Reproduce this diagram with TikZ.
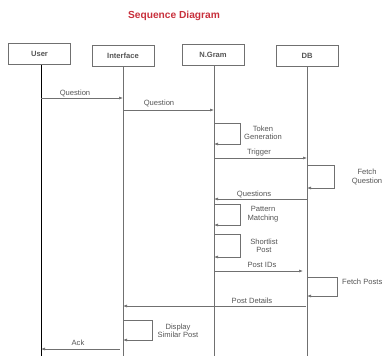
\documentclass[tikz,border=0pt]{standalone}
\usepackage{fontspec}
\setmainfont{Liberation Sans}
\usetikzlibrary{arrows.meta}
\definecolor{ln}{HTML}{707070}
\definecolor{tx}{HTML}{555555}
\definecolor{ttl}{HTML}{C8303C}
\begin{document}
\begin{tikzpicture}[x=1pt,y=-1pt,
  obj/.style={draw=ln,line width=0.6pt,minimum width=62pt,minimum height=21pt,inner sep=0pt,font=\fontsize{7.6}{9}\selectfont\bfseries,text=tx},
  life/.style={draw=ln,line width=0.6pt},
  msg/.style={draw=ln,line width=0.6pt,-{Latex[length=4pt,width=3pt]}},
  lbl/.style={font=\fontsize{7.6}{9}\selectfont,text=tx,inner sep=0pt},
  ml/.style={font=\fontsize{7.6}{8.5}\selectfont,text=tx,inner sep=0pt,align=center}]
\useasboundingbox (0,0) rectangle (385,356);
\node[font=\fontsize{10.2}{12}\selectfont\bfseries,text=ttl] (title) at (174,16) {Sequence Diagram};
\node[obj] (user) at (39.5,54) {User};
\node[obj] (intf) at (123,55.5) {Interface};
\node[obj] (ngram) at (213,55) {N.Gram};
\node[obj] (db) at (307,56) {DB};
% lifelines
\coordinate (uend) at (41,356);
\coordinate (iend) at (123,356);
\coordinate (nend) at (214,356);
\coordinate (dend) at (307,356);
\draw[line width=0.7pt,black] (user.south -| uend) -- (uend);
\draw[life] (intf.south) -- (iend);
\draw[life] (ngram.south -| nend) -- (nend);
\draw[life] (db.south) -- (dend);
% messages
\coordinate (q1a) at (41,98); \coordinate (q1b) at (123,98);
\draw[msg] (q1a) -- (q1b);
\node[lbl] (q1l) at (75,93) {Question};
\coordinate (q2a) at (123,110); \coordinate (q2b) at (214,110);
\draw[msg] (q2a) -- (q2b);
\node[lbl] (q2l) at (159,103) {Question};
% token generation
\coordinate (t1) at (214,123); \coordinate (t2) at (240,123); \coordinate (t3) at (240,144); \coordinate (t4) at (214,144);
\draw[msg] (t1) -- (t2) -- (t3) -- (t4);
\node[ml] (tl) at (263,133) {Token\\Generation};
% trigger
\coordinate (tr1) at (214,158); \coordinate (tr2) at (307,158);
\draw[msg] (tr1) -- (tr2);
\node[lbl] (trl) at (259,153) {Trigger};
% fetch question
\coordinate (f1) at (307,165); \coordinate (f2) at (334,165); \coordinate (f3) at (334,188); \coordinate (f4) at (307,188);
\draw[msg] (f1) -- (f2) -- (f3) -- (f4);
\node[ml] (fl) at (367,177) {Fetch\\Question};
% questions
\coordinate (qs1) at (307,199); \coordinate (qs2) at (214,199);
\draw[msg] (qs1) -- (qs2);
\node[lbl] (qsl) at (254,194) {Questions};
% pattern matching
\coordinate (p1) at (214,204); \coordinate (p2) at (240,204); \coordinate (p3) at (240,225); \coordinate (p4) at (214,225);
\draw[msg] (p1) -- (p2) -- (p3) -- (p4);
\node[ml] (pl) at (263,214) {Pattern\\Matching};
% shortlist post
\coordinate (s1) at (214,234); \coordinate (s2) at (240,234); \coordinate (s3) at (240,257); \coordinate (s4) at (214,257);
\draw[msg] (s1) -- (s2) -- (s3) -- (s4);
\node[ml] (sl) at (264,246) {Shortlist\\Post};
% post ids
\coordinate (pi1) at (214,271); \coordinate (pi2) at (303,271);
\draw[msg] (pi1) -- (pi2);
\node[lbl] (pil) at (262,265) {Post IDs};
% fetch posts
\coordinate (fp1) at (307,277); \coordinate (fp2) at (337,277); \coordinate (fp3) at (337,296); \coordinate (fp4) at (307,296);
\draw[msg] (fp1) -- (fp2) -- (fp3) -- (fp4);
\node[lbl,anchor=west] (fpl) at (342,282) {Fetch Posts};
% post details
\coordinate (pd1) at (306,306); \coordinate (pd2) at (123,306);
\draw[msg] (pd1) -- (pd2);
\node[lbl] (pdl) at (252,301) {Post Details};
% display similar post
\coordinate (d1) at (123,320); \coordinate (d2) at (152,320); \coordinate (d3) at (152,340); \coordinate (d4) at (123,340);
\draw[msg] (d1) -- (d2) -- (d3) -- (d4);
\node[ml] (dl) at (178,331) {Display\\Similar Post};
% ack
\coordinate (a1) at (120,349); \coordinate (a2) at (41,349);
\draw[msg] (a1) -- (a2);
\node[lbl] (al) at (78,343) {Ack};
\end{tikzpicture}
\end{document}
